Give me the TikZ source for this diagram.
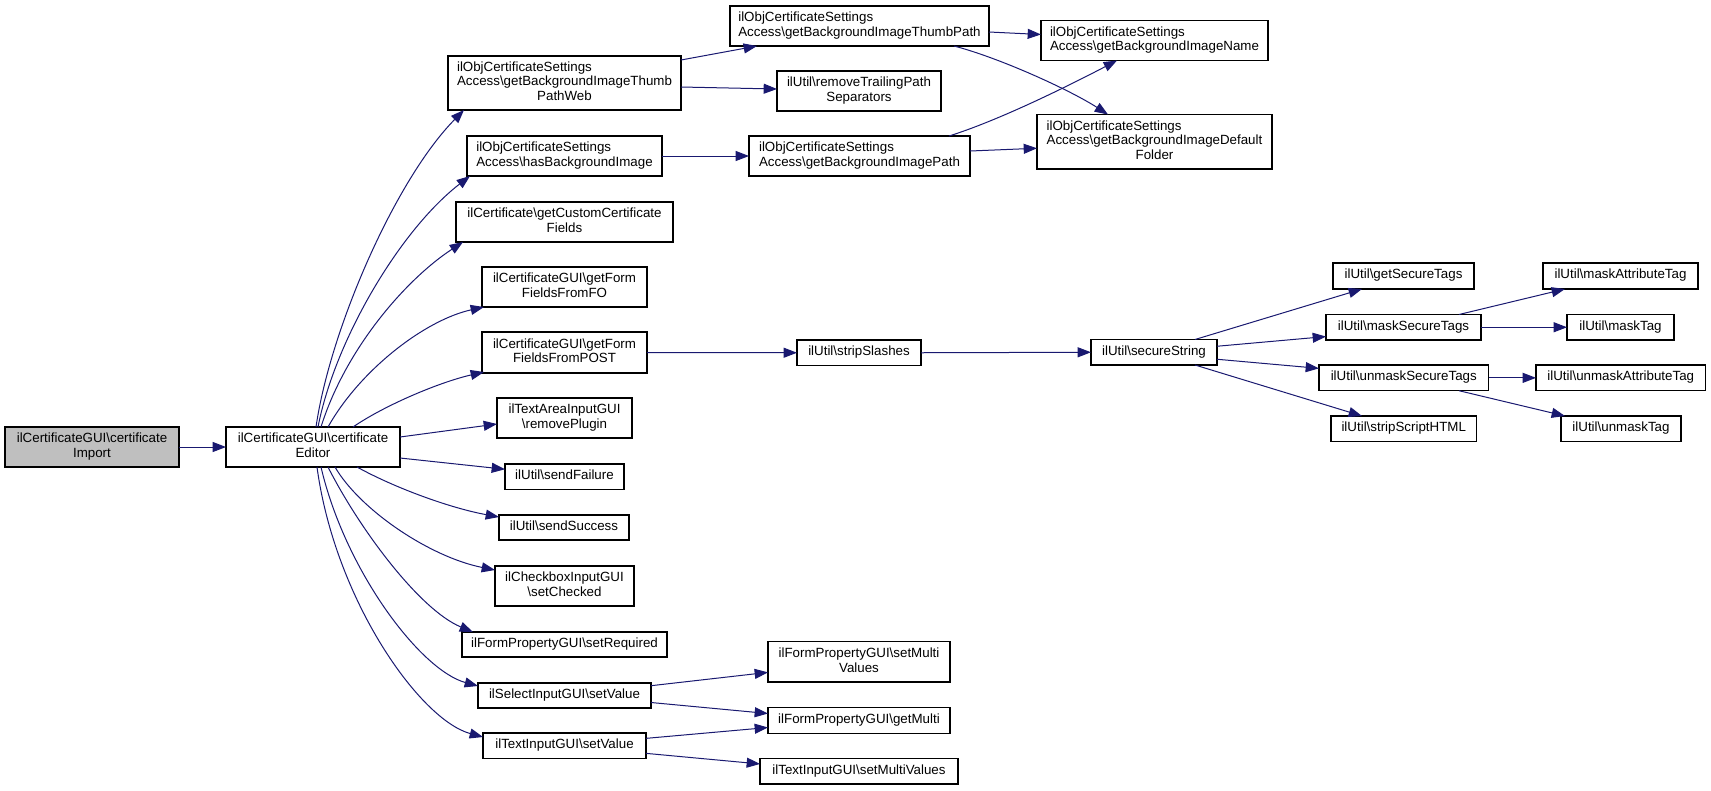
\documentclass[tikz,border=0pt]{standalone}
\usepackage{fontspec}
\setmainfont{Liberation Sans}
\usetikzlibrary{arrows.meta,calc}
\definecolor{edgec}{HTML}{191970}
\definecolor{rootc}{HTML}{BFBFBF}
\newcommand\bs{\textbackslash}
\newcommand\labtwo[2]{\begin{tabular}{@{}l@{}}#1\\\multicolumn{1}{@{}c@{}}{#2}\end{tabular}}
\newcommand\labthree[3]{\begin{tabular}{@{}l@{}}#1\\#2\\\multicolumn{1}{@{}c@{}}{#3}\end{tabular}}
\newcommand\mybox[7][]{\node[box,#1,minimum width={(#5-#3)*0.75pt},minimum height={(#6-#4)*0.75pt}] (#2) at ({(#3+#5)/2},{(#4+#6)/2}) {#7};}
\begin{document}
\begin{tikzpicture}[x=0.75pt,y=-0.75pt,
  box/.style={draw=black,line width=0.8pt,fill=white,inner sep=0pt,outer sep=0pt,font=\fontsize{10}{11}\selectfont},
  edge/.style={draw=edgec,line width=0.75pt,-{Triangle[length=10pt,width=7.5pt]}}]
\useasboundingbox (0,0) rectangle (1711,790);
\mybox[fill=rootc]{imp}{5}{427}{179}{467}{\labtwo{ilCertificateGUI\bs certificate}{Import}}
\mybox{ed}{226}{427}{400}{467}{\labtwo{ilCertificateGUI\bs certificate}{Editor}}
\mybox{tpw}{448}{56}{681}{110}{\labthree{ilObjCertificateSettings}{Access\bs getBackgroundImageThumb}{PathWeb}}
\mybox{hbi}{467}{136}{662}{176}{\labtwo{ilObjCertificateSettings}{Access\bs hasBackgroundImage}}
\mybox{gccf}{456}{202}{673}{242}{\labtwo{ilCertificate\bs getCustomCertificate}{Fields}}
\mybox{ffo}{482}{267}{647}{307}{\labtwo{ilCertificateGUI\bs getForm}{FieldsFromFO}}
\mybox{fpost}{482}{332}{647}{373}{\labtwo{ilCertificateGUI\bs getForm}{FieldsFromPOST}}
\mybox{rmp}{497}{398}{632}{438}{\labtwo{ilTextAreaInputGUI}{\bs removePlugin}}
\mybox{sfail}{505}{464}{624}{489.5}{\strut ilUtil\bs sendFailure}
\mybox{ssucc}{499}{515}{629}{540}{\strut ilUtil\bs sendSuccess}
\mybox{schk}{495}{566}{634}{606}{\labtwo{ilCheckboxInputGUI}{\bs setChecked}}
\mybox{sreq}{462}{632}{667}{657}{\strut ilFormPropertyGUI\bs setRequired}
\mybox{selv}{478}{683}{651}{708}{\strut ilSelectInputGUI\bs setValue}
\mybox{txtv}{483}{733}{646}{758.7}{\strut ilTextInputGUI\bs setValue}
\mybox{tp}{730}{6}{989}{46}{\labtwo{ilObjCertificateSettings}{Access\bs getBackgroundImageThumbPath}}
\mybox{bin}{1041}{20.5}{1268}{60.5}{\labtwo{ilObjCertificateSettings}{Access\bs getBackgroundImageName}}
\mybox{rtps}{777}{71}{941}{111}{\labtwo{ilUtil\bs removeTrailingPath}{Separators}}
\mybox{bip}{749}{136}{970}{176}{\labtwo{ilObjCertificateSettings}{Access\bs getBackgroundImagePath}}
\mybox{bdf}{1037}{114.5}{1272}{169}{\labthree{ilObjCertificateSettings}{Access\bs getBackgroundImageDefault}{Folder}}
\mybox{ssl}{797}{340}{921}{365.5}{\strut ilUtil\bs stripSlashes}
\mybox{ss}{1091}{339.5}{1217}{365}{\strut ilUtil\bs secureString}
\mybox{gst}{1333}{263}{1474}{289}{\strut ilUtil\bs getSecureTags}
\mybox{mat}{1543}{263}{1698}{289}{\strut ilUtil\bs maskAttributeTag}
\mybox{mst}{1326}{314.5}{1481}{340}{\strut ilUtil\bs maskSecureTags}
\mybox{mt}{1567}{314.5}{1674}{340}{\strut ilUtil\bs maskTag}
\mybox{ust}{1319}{365}{1488.5}{390.7}{\strut ilUtil\bs unmaskSecureTags}
\mybox{uat}{1536}{365}{1705.5}{390.7}{\strut ilUtil\bs unmaskAttributeTag}
\mybox{ssh}{1331}{416}{1476.5}{441.5}{\strut ilUtil\bs stripScriptHTML}
\mybox{ut}{1561}{416}{1681}{441.5}{\strut ilUtil\bs unmaskTag}
\mybox{fpsmv}{768}{641.7}{950}{682}{\labtwo{ilFormPropertyGUI\bs setMulti}{Values}}
\mybox{fpgm}{768}{707.7}{950}{733.3}{\strut ilFormPropertyGUI\bs getMulti}
\mybox{tismv}{760}{758.7}{958}{784}{\strut ilTextInputGUI\bs setMultiValues}
% edges
\draw[edge] (imp.east) -- (ed.west);
\draw[edge] ($(ed.north)+(3,0)$) .. controls (330,330) and (395,180) .. ($(tpw.south west)+(16,0)$);
\draw[edge] ($(ed.north)+(5,0)$) .. controls (335,340) and (400,230) .. ($(hbi.south west)+(3,0)$);
\draw[edge] ($(ed.north)+(8,0)$) .. controls (345,350) and (405,280) .. ($(gccf.south west)+(7,0)$);
\draw[edge] ($(ed.north)+(15,0)$) .. controls (360,370) and (425,320) .. ($(ffo.south west)+(2,0)$);
\draw[edge] ($(ed.north)+(40,0)$) .. controls (385,405) and (440,382) .. ($(fpost.south west)+(2,-1)$);
\draw[edge] ($(ed.east)+(0,-10)$) -- ($(rmp.west)+(0,6)$);
\draw[edge] ($(ed.east)+(0,11)$) -- ($(sfail.west)+(0,-7.5)$);
\draw[edge] ($(ed.south)+(44,0)$) .. controls (395,488) and (450,508) .. ($(ssucc.north west)+(0,2)$);
\draw[edge] ($(ed.south)+(22,0)$) .. controls (360,510) and (430,557) .. ($(schk.north west)+(0,4)$);
\draw[edge] ($(ed.south)+(15,0)$) .. controls (360,530) and (420,610) .. ($(sreq.north west)+(11,0)$);
\draw[edge] ($(ed.south)+(8,0)$) .. controls (345,570) and (420,670) .. ($(selv.north west)+(0,3)$);
\draw[edge] ($(ed.south)+(4,0)$) .. controls (335,600) and (420,720) .. ($(txtv.north west)+(0,4)$);
\draw[edge] ($(tpw.north east)+(0,4)$) -- ($(tp.south west)+(27,0)$);
\draw[edge] ($(tpw.east)+(0,4)$) -- ($(rtps.west)+(0,-2)$);
\draw[edge] ($(tp.east)+(0,6)$) -- ($(bin.west)+(0,-6)$);
\draw[edge] ($(tp.south east)+(-35,0)$) .. controls (1000,58) and (1070,90) .. ($(bdf.north west)+(71,0)$);
\draw[edge] (hbi.east) -- (bip.west);
\draw[edge] ($(bip.north east)+(-21,0)$) .. controls (1000,120) and (1070,85) .. ($(bin.south west)+(76,0)$);
\draw[edge] ($(bip.east)+(0,-5)$) -- ($(bdf.west)+(0,6.5)$);
\draw[edge] (fpost.east) -- (ssl.west);
\draw[edge] (ssl.east) -- (ss.west);
\draw[edge] ($(ss.north)+(41,0)$) -- ($(gst.south west)+(29,0)$);
\draw[edge] ($(ss.east)+(0,-6)$) -- ($(mst.west)+(0,9.3)$);
\draw[edge] ($(ss.east)+(0,7)$) -- ($(ust.west)+(0,-9.5)$);
\draw[edge] ($(ss.south)+(41,0)$) -- ($(ssh.north west)+(31,0)$);
\draw[edge] ($(mst.north east)+(-22,0)$) -- ($(mat.south west)+(22,0)$);
\draw[edge] (mst.east) -- (mt.west);
\draw[edge] (ust.east) -- (uat.west);
\draw[edge] ($(ust.south east)+(-29.5,0)$) -- ($(ut.north west)+(4,0)$);
\draw[edge] ($(selv.north east)+(0,2.7)$) -- ($(fpsmv.west)+(0,10.5)$);
\draw[edge] ($(selv.east)+(0,7)$) -- ($(fpgm.west)+(0,-7)$);
\draw[edge] ($(txtv.east)+(0,-7.5)$) -- ($(fpgm.west)+(0,7)$);
\draw[edge] ($(txtv.east)+(0,7.5)$) -- ($(tismv.west)+(0,-7.4)$);
\end{tikzpicture}
\end{document}
